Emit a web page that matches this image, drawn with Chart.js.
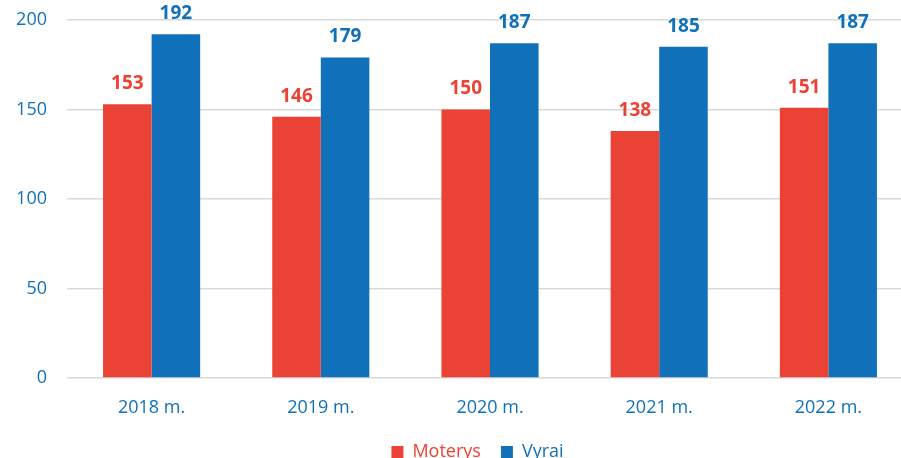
<!DOCTYPE html>
<html><head><meta charset="utf-8">
<script src="https://cdn.jsdelivr.net/npm/chart.js@4"></script>
<style>html,body{margin:0;padding:0;background:#fff;overflow:hidden}#w{width:913px;height:458px}</style>
</head><body><div id="w"><canvas id="c"></canvas></div>
<script>
const categories = ["2018 m.", "2019 m.", "2020 m.", "2021 m.", "2022 m."];
const moterys = [153, 146, 150, 138, 151];
const vyrai = [192, 179, 187, 185, 187];
const yTicks = [0, 50, 100, 150, 200];
const RED = "#EA4335", BLUE = "#1071BA";
const FONT = "'Open Sans', 'Liberation Sans', sans-serif";

const labelPlugin = {
  id: "vals",
  afterLayout(chart) {
    const lg = chart.legend;
    if (lg) { lg.left += 21; lg.right += 21; }
  },
  afterDatasetsDraw(chart) {
    const ctx = chart.ctx;
    ctx.save();
    ctx.font = "bold 19px " + FONT;
    ctx.textAlign = "center";
    ctx.textBaseline = "bottom";
    chart.data.datasets.forEach((ds, i) => {
      const meta = chart.getDatasetMeta(i);
      ctx.fillStyle = ds.backgroundColor;
      meta.data.forEach((bar, j) => {
        ctx.fillText(String(ds.data[j]), bar.x, bar.y - 11);
      });
    });
    ctx.restore();
  }
};

new Chart(document.getElementById("c"), {
  type: "bar",
  data: {
    labels: categories,
    datasets: [
      { label: "Moterys", data: moterys, backgroundColor: RED },
      { label: "Vyrai", data: vyrai, backgroundColor: BLUE }
    ]
  },
  options: {
    responsive: true, maintainAspectRatio: false, animation: false,
    layout: { padding: { top: 20, right: 0, left: 0, bottom: -13 } },
    datasets: { bar: { categoryPercentage: 0.574, barPercentage: 1 } },
    scales: {
      x: {
        grid: { display: false },
        border: { display: false },
        afterFit(s) { s.height = 45; },
        ticks: { color: BLUE, font: { family: FONT, size: 18 }, padding: 11 }
      },
      y: {
        min: 0, max: 200,
        afterBuildTicks(s) { s.ticks = yTicks.map(v => ({ value: v })); },
        afterFit(s) { s.width = 67; s.paddingTop = 0; s.paddingBottom = 0; },
        grid: { color: "#D9D9D9", lineWidth: 1.5, drawTicks: false },
        border: { display: false },
        ticks: { color: BLUE, font: { family: FONT, size: 18 }, padding: 20 }
      }
    },
    plugins: {
      tooltip: { enabled: false },
      legend: {
        position: "bottom",
        labels: {
          font: { family: FONT, size: 18 },
          boxWidth: 12, boxHeight: 12, padding: 20,
          generateLabels(chart) {
            return chart.data.datasets.map((ds, i) => ({
              text: ds.label, fillStyle: ds.backgroundColor, strokeStyle: ds.backgroundColor,
              lineWidth: 0, fontColor: ds.backgroundColor, datasetIndex: i, hidden: false
            }));
          }
        }
      }
    }
  },
  plugins: [labelPlugin]
});
</script></body></html>
